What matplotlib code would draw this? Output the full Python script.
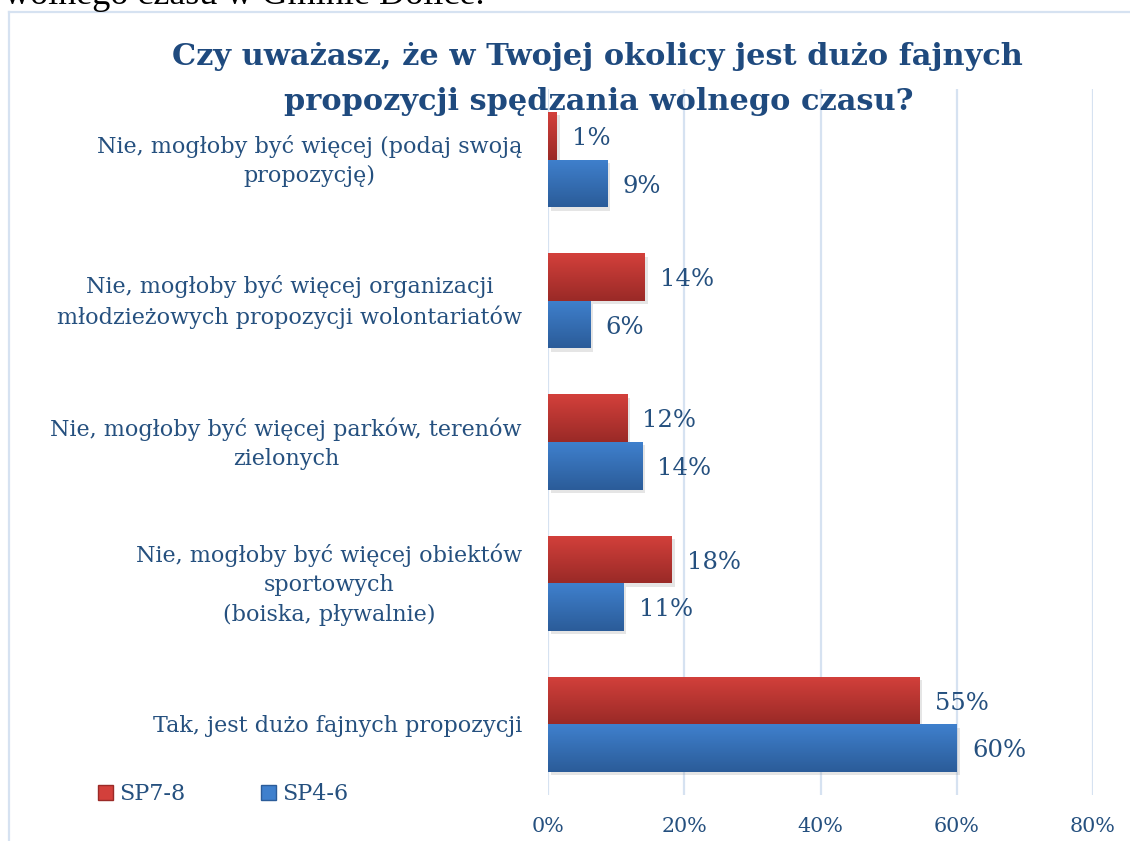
import matplotlib
matplotlib.use("Agg")
import matplotlib.pyplot as plt
import numpy as np
from matplotlib import patheffects as pe
from matplotlib.colors import LinearSegmentedColormap
from matplotlib.lines import Line2D
from matplotlib.patches import Patch

# ---------------- data ----------------
categories = [
    "Nie, mogłoby być więcej (podaj swoją\npropozycję)",
    "Nie, mogłoby być więcej organizacji\nmłodzieżowych propozycji wolontariatów",
    "Nie, mogłoby być więcej parków, terenów\nzielonych",
    "Nie, mogłoby być więcej obiektów\nsportowych\n(boiska, pływalnie)",
    "Tak, jest dużo fajnych propozycji",
]
sp78_values = [1.3, 14.2, 11.6, 18.2, 54.5]
sp46_values = [8.7, 6.2, 13.8, 11.1, 60.0]
sp78_labels = ["1%", "14%", "12%", "18%", "55%"]
sp46_labels = ["9%", "6%", "14%", "11%", "60%"]
series_names = ["SP7-8", "SP4-6"]
xtick_values = [0, 20, 40, 60, 80]
xtick_labels = ["0%", "20%", "40%", "60%", "80%"]
title_lines = ["Czy uważasz, że w Twojej okolicy jest dużo fajnych",
               "propozycji spędzania wolnego czasu?"]
doc_text = "wolnego czasu w Gminie Dolice."

# ---------------- style ----------------
W, H = 1130, 841
SERIF = ["DejaVu Serif", "Liberation Serif"]
TXT = "#25507f"
TITLE_C = "#1f4a7e"
GRID_C = "#d6e2f1"
RED_TOP, RED_BOT = "#d3403b", "#9a2a27"
BLUE_TOP, BLUE_BOT = "#3f80cd", "#2b5c99"

plt.rcParams["font.family"] = SERIF

fig = plt.figure(figsize=(W / 100, H / 100), dpi=100)
fig.patch.set_facecolor("white")
renderer = fig.canvas.get_renderer()


def fx(px):
    return px / W


def fy(py):
    return 1 - py / H


def fit_width(t, target_px):
    bb = t.get_window_extent(renderer=renderer)
    t.set_fontsize(t.get_fontsize() * target_px / bb.width)


# chart border (light blue, open to the right)
fig.add_artist(Line2D([fx(8.5), 1.0], [fy(11.5), fy(11.5)], color=GRID_C, lw=1.6))
fig.add_artist(Line2D([fx(8.5), fx(8.5)], [0, fy(11.5)], color=GRID_C, lw=1.6))

# cut-off document text at very top
dt = fig.text(fx(4), fy(3.5), doc_text, ha="left", va="baseline",
              family="Liberation Serif", color="black", fontsize=18)
fit_width(dt, 482)

# axes
left, right, top, bottom = 548, 1093, 89, 795
ax = fig.add_axes([fx(left), fy(bottom), fx(right - left), (bottom - top) / H])
ax.set_facecolor("none")

n = len(categories)
y = np.arange(n)
h = 0.337

cmap_red = LinearSegmentedColormap.from_list("r", [RED_TOP, RED_BOT])
cmap_blue = LinearSegmentedColormap.from_list("b", [BLUE_TOP, BLUE_BOT])

shadow = [pe.SimplePatchShadow(offset=(2.0, -2.5), shadow_rgbFace="#9a9a9a", alpha=0.25), pe.Normal()]
bars_red = ax.barh(y - h / 2, sp78_values, height=h, color=RED_TOP, zorder=3, path_effects=shadow)
bars_blue = ax.barh(y + h / 2, sp46_values, height=h, color=BLUE_TOP, zorder=3, path_effects=shadow)

grad = np.linspace(0, 1, 64).reshape(-1, 1)
for bars, cm in ((bars_red, cmap_red), (bars_blue, cmap_blue)):
    for b in bars:
        x0, y0, bw, bh = b.get_x(), b.get_y(), b.get_width(), b.get_height()
        im = ax.imshow(grad, cmap=cm, aspect="auto", zorder=4,
                       extent=(x0, x0 + bw, y0 + bh, y0), origin="upper")
        im.set_clip_path(b)

ax.set_xlim(0, 80)
ax.set_ylim(n - 0.5, -0.5)
ax.set_xticks(xtick_values)
ax.set_xticklabels(xtick_labels)
ax.set_yticks([])
for s in ax.spines.values():
    s.set_visible(False)
ax.grid(axis="x", color=GRID_C, lw=1.6, zorder=0)
ax.set_axisbelow(True)
ax.tick_params(axis="x", length=0, pad=16, labelcolor=TXT, labelsize=16)
for lab in ax.get_xticklabels():
    lab.set_family(SERIF)

# data labels
data_labels = []
for bars, labs in ((bars_red, sp78_labels), (bars_blue, sp46_labels)):
    for b, lab in zip(bars, labs):
        t = ax.annotate(lab, (b.get_width(), b.get_y() + b.get_height() / 2),
                        xytext=(11, -2), textcoords="offset points",
                        ha="left", va="center", color=TXT, fontsize=18, zorder=5)
        data_labels.append(t)

# category labels (centered multi-line, right edge at x=522)
cat_texts = []
for yi, c in zip(y, categories):
    t = ax.text((522 - left) / (right - left), yi + 0.01, c, ha="right", va="center",
                multialignment="center", color=TXT, fontsize=16,
                transform=ax.get_yaxis_transform(), linespacing=1.42)
    cat_texts.append(t)

fit_width(cat_texts[0], 425)
for t in cat_texts[1:]:
    t.set_fontsize(cat_texts[0].get_fontsize())

fig.canvas.draw()
tick60 = ax.get_xticklabels()[3]
s = 16 * 46 / tick60.get_window_extent(renderer=renderer).width
ax.tick_params(axis="x", labelsize=s)

lab60 = data_labels[-1]
fit_width(lab60, 54)
for t in data_labels:
    t.set_fontsize(lab60.get_fontsize())

# title (two lines, baselines at y=65 and y=110)
t1 = fig.text(fx(597.5), fy(65), title_lines[0], ha="center", va="baseline",
              fontsize=24, fontweight="bold", color=TITLE_C)
fit_width(t1, 851)
t2 = fig.text(fx(598.5), fy(110), title_lines[1], ha="center", va="baseline",
              fontsize=t1.get_fontsize(), fontweight="bold", color=TITLE_C)

# legend
leg = fig.legend([Patch(facecolor=RED_TOP, edgecolor=RED_BOT), Patch(facecolor=BLUE_TOP, edgecolor=BLUE_BOT)],
                 series_names, loc="center left", bbox_to_anchor=(fx(98), fy(794)),
                 borderaxespad=0, borderpad=0,
                 ncol=2, frameon=False, handlelength=0.68, handleheight=0.68,
                 handletextpad=0.27, columnspacing=3.4, fontsize=16, labelcolor=TXT)

fig.savefig("out.png", dpi=100, facecolor="white")
